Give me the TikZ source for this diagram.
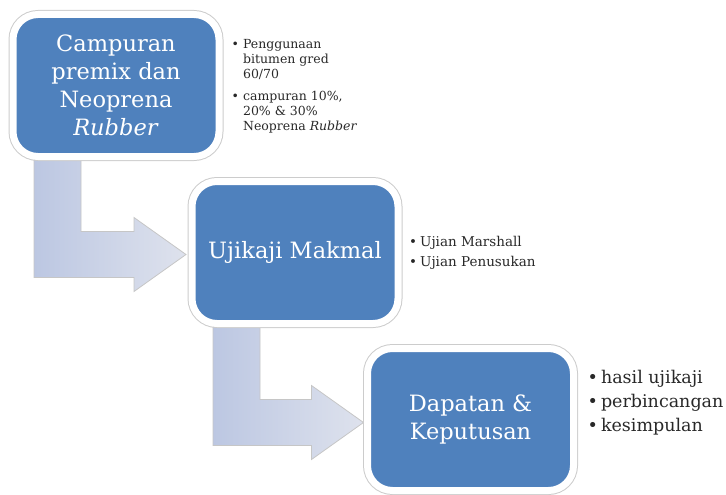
\documentclass[tikz,border=0pt]{standalone}
\usepackage{fontspec}
\setmainfont{DejaVu Serif}
\usetikzlibrary{calc,backgrounds,positioning}
\definecolor{boxblue}{RGB}{79,129,189}
\definecolor{arrowdark}{RGB}{188,199,226}
\definecolor{arrowlight}{RGB}{222,226,237}
\definecolor{listgray}{RGB}{40,40,40}

\begin{document}
\begin{tikzpicture}[x=1pt,y=-1pt,
		stepbox/.style={rectangle, rounded corners=25pt, minimum width=206pt, minimum height=142pt,
			inner sep=0pt, outer sep=0pt, fill=boxblue, draw=white, line width=7pt,
			preaction={draw=gray!40, line width=9pt},
			text=white, align=center, font=\fontsize{22.5}{28}\selectfont},
		bentarrow/.style={draw=gray!45, line width=0.8pt, left color=arrowdark, right color=arrowlight},
		notelist/.style={anchor=west, inner sep=0pt, text=listgray, align=left}]
		\useasboundingbox (0,0) rectangle (726,495);
	
		\node[stepbox] (Campuran) at (116,85.5) {Campuran\\premix dan\\Neoprena\\\textit{Rubber}};
		\node[stepbox] (Ujikaji) at (295,252.5) {Ujikaji Makmal};
		\node[stepbox] (Dapatan) at (470.5,419.5) {Dapatan \&\\Keputusan};
	
		% catatan di sebelah kotak
		\node[notelist, anchor=north west, font=\fontsize{12.5}{15}\selectfont] (CampuranNotes)
			at ($(Campuran.north east)+(12.5,23)$) {\begin{tabular}{@{}l@{\hspace{4pt}}l@{}}
				\textbullet & Penggunaan\\
				& bitumen gred\\
				& 60/70\\[7pt]
				\textbullet & campuran 10\%,\\
				& 20\% \& 30\%\\
				& Neoprena \textit{Rubber}
			\end{tabular}};
		\node[notelist, font=\fontsize{13.5}{20}\selectfont] (UjikajiNotes)
			at ($(Ujikaji.east)+(11,0)$) {\begin{tabular}{@{}l@{\hspace{3pt}}l@{}}
				\textbullet & Ujian Marshall\\
				\textbullet & Ujian Penusukan
			\end{tabular}};
		\node[notelist, font=\fontsize{17.5}{24}\selectfont] (DapatanNotes)
			at ($(Dapatan.east)+(14,-17)$) {\begin{tabular}{@{}l@{\hspace{3pt}}l@{}}
				\textbullet & hasil ujikaji\\
				\textbullet & perbincangan\\
				\textbullet & kesimpulan
			\end{tabular}};
	
		% anak panah bengkok di belakang kotak
		\begin{scope}[on background layer]
			\coordinate (StemA) at ($(Campuran.south west)+(21,-10)$);
			\coordinate (TipA) at ($(Ujikaji.west)+(-6,2)$);
			\draw[bentarrow] (StemA) -- ++(47,0) |- ($(TipA)+(-52,-23)$) -- ++(0,-14) -- (TipA)
				-- ++(-52,37) -- ++(0,-14) -| (StemA) -- cycle;
			\coordinate (StemB) at ($(Ujikaji.south west)+(21,-10)$);
			\coordinate (TipB) at ($(Dapatan.west)+(-4,3)$);
			\draw[bentarrow] (StemB) -- ++(47,0) |- ($(TipB)+(-52,-23)$) -- ++(0,-14) -- (TipB)
				-- ++(-52,37) -- ++(0,-14) -| (StemB) -- cycle;
		\end{scope}
	\end{tikzpicture}
\end{document}
